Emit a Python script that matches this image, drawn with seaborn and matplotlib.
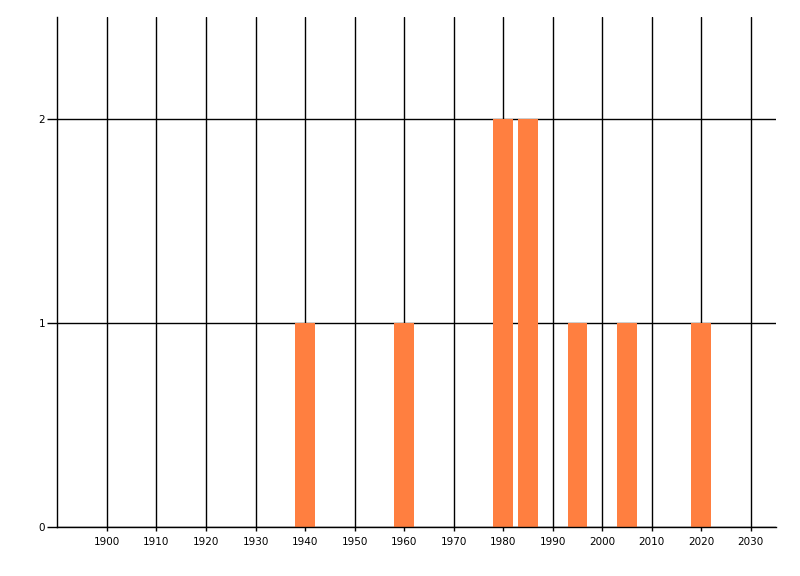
import matplotlib
matplotlib.use("Agg")
import matplotlib.pyplot as plt
import seaborn as sns

years = [1940, 1960, 1980, 1985, 1995, 2005, 2020]
counts = [1, 1, 2, 2, 1, 1, 1]
x_ticks = list(range(1900, 2031, 10))
y_ticks = [0, 1, 2]

sns.set_theme(style="ticks")
plt.rcParams["font.family"] = ["DejaVu Sans"]

fig = plt.figure(figsize=(8, 5.76), dpi=100)
ax = fig.add_axes([0.0718, 0.085, 0.8976, 0.886])

sns.barplot(x=years, y=counts, native_scale=True, width=0.8, errorbar=None,
            color="#FF7F40", saturation=1, linewidth=0, zorder=2, ax=ax)

ax.set_xlim(1890, 2035)
ax.set_ylim(0, 2.5)
ax.set_xticks(x_ticks)
ax.set_xticklabels([str(t) for t in x_ticks])
ax.set_yticks(y_ticks)
ax.set_yticklabels([str(t) for t in y_ticks])

ax.set_axisbelow(True)
ax.grid(True, color="black", linewidth=1)
for s in ["top", "right"]:
    ax.spines[s].set_visible(False)
for s in ["left", "bottom"]:
    ax.spines[s].set_color("black")
    ax.spines[s].set_linewidth(1)

ax.tick_params(axis="x", length=3, width=1, color="black", labelcolor="black",
               labelsize=7.5, pad=4)
ax.tick_params(axis="y", length=7, width=1, color="black", labelcolor="black",
               labelsize=7.5, pad=2)
ax.set_xlabel("")
ax.set_ylabel("")

fig.savefig("out.png", dpi=100)
